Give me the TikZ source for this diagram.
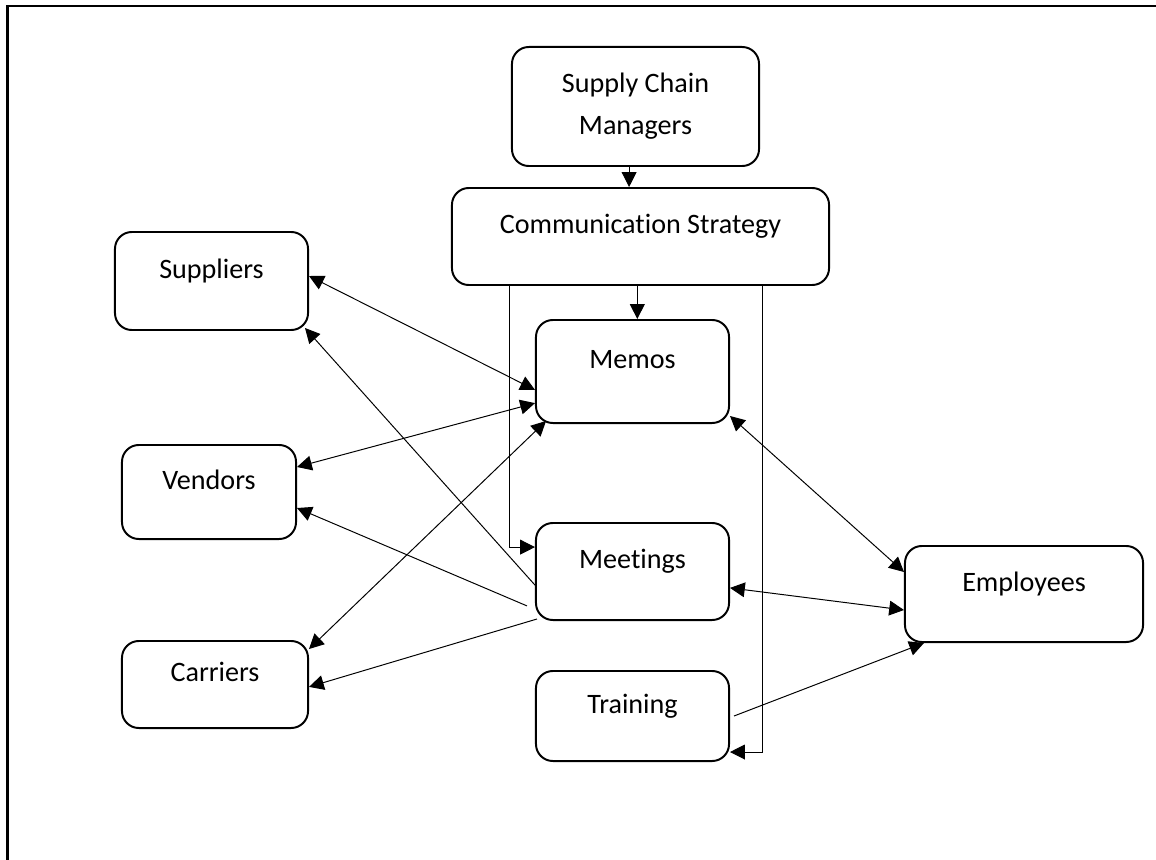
\documentclass[tikz,border=0pt]{standalone}
\usepackage{fontspec}
\setmainfont{Carlito}[Ligatures=CommonOff]
\usetikzlibrary{arrows.meta}
\begin{document}
\begin{tikzpicture}[x=0.025cm,y=-0.025cm,>={Triangle[length=10.5pt,width=10.5pt]},
		roundbox/.style={draw,line width=1.4pt,rounded corners=12pt,font=\fontsize{20}{24}\selectfont},
		box/.style={roundbox,text height=14pt,text depth=18pt},
		link/.style={line width=0.7pt}]
	\useasboundingbox (0,0) rectangle (1156,860);
	\draw[line width=1.8pt] (7.5,880) -- (7.5,6) -- (1180,6);
	% boxes
	\node[roundbox,align=center,minimum width=6.175cm,minimum height=2.975cm] (scm) at (635.5,106.5) {Supply Chain\\[6pt]Managers};
	\node[box,minimum width=9.425cm,minimum height=2.425cm] (strategy) at (640.5,236.5) {Communication Strategy};
	\node[box,minimum width=4.825cm,minimum height=2.45cm] (suppliers) at (211.5,281) {Suppliers};
	\node[box,minimum width=4.35cm,minimum height=2.35cm] (vendors) at (209,492) {Vendors};
	\node[box,minimum width=4.65cm,minimum height=2.175cm] (carriers) at (215,684.5) {Carriers};
	\node[box,minimum width=4.825cm,minimum height=2.575cm] (memos) at (632.5,371.5) {Memos};
	\node[box,minimum width=4.825cm,minimum height=2.425cm] (meetings) at (632.5,571.5) {Meetings};
	\node[box,minimum width=4.825cm,minimum height=2.25cm] (training) at (632.5,716) {Training};
	\node[box,minimum width=5.95cm,minimum height=2.4cm] (employees) at (1024,594) {Employees};
	% top-down links
	\coordinate (a1) at ([xshift=-0.16cm]scm.south);
	\draw[link,->] (a1) -- (a1 |- strategy.north);
	\coordinate (a2) at ([xshift=0.12cm]memos.north);
	\draw[link,->] (a2 |- strategy.south) -- (a2);
	\coordinate (a3) at ([xshift=1.475cm]strategy.south west);
	\coordinate (a4) at ([yshift=0.61cm]meetings.west);
	\draw[link,->] (a3) |- (a4);
	\coordinate (a5) at ([xshift=-1.7cm]strategy.south east);
	\coordinate (a6) at ([yshift=-0.9cm]training.east);
	\draw[link,->] (a5) |- (a6);
	% memos
	\draw[link,<->] ([yshift=0.125cm]suppliers.east) -- ([yshift=-0.46cm]memos.west);
	\draw[link,<->] ([yshift=0.625cm]vendors.east) -- ([yshift=-0.79cm]memos.west);
	\draw[link,<->] ([yshift=-0.225cm]carriers.north east) -- ([xshift=0.275cm,yshift=0.075cm]memos.south west);
	\draw[link,<->] ([yshift=0.2cm]memos.south east) -- ([yshift=0.55cm]employees.west);
	% meetings
	\draw[link,->] ([yshift=-0.34cm]meetings.west) -- ([xshift=-0.1cm,yshift=0.075cm]suppliers.south east);
	\draw[link,->] ([xshift=-0.2cm,yshift=-0.86cm]meetings.west) -- ([yshift=-0.4cm]vendors.east);
	\draw[link,->] ([xshift=0.05cm,yshift=0.05cm]meetings.south west) -- ([yshift=-0.06cm]carriers.east);
	\draw[link,<->] ([yshift=-0.41cm]meetings.east) -- ([yshift=-0.4cm]employees.west);
	% training
	\draw[link,->] ([xshift=0.1cm]training.east) -- ([xshift=0.5cm]employees.south west);
\end{tikzpicture}
\end{document}
